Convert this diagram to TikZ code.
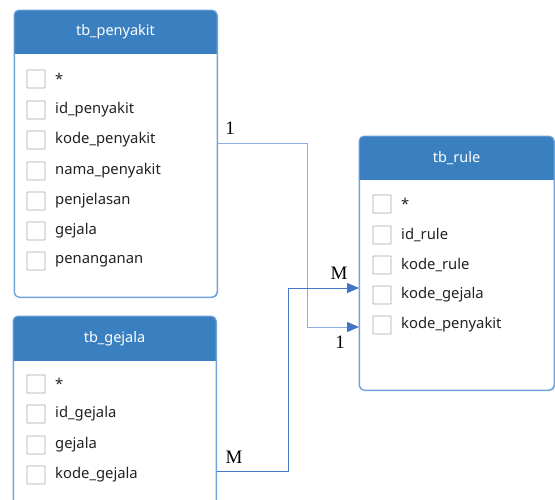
\documentclass[tikz,border=0pt]{standalone}
\usepackage{fontspec}
\setmainfont{Liberation Serif}
\newfontfamily\uifont{Noto Sans}
\usetikzlibrary{arrows.meta,calc}
\definecolor{hdr}{HTML}{3A80C0}
\definecolor{bord}{HTML}{6FA3DC}
\definecolor{lineA}{HTML}{8CAEE0}
\definecolor{lineB}{HTML}{4A78CC}
\definecolor{tip}{HTML}{4472C4}
\definecolor{cb}{HTML}{A8A8A8}
\definecolor{txt}{HTML}{222222}
\tikzset{
  tablebox/.style={draw=bord, line width=1pt, fill=white, rounded corners=5pt, inner sep=0pt, anchor=north west},
  hdrtext/.style={font=\uifont\fontsize{14.5}{16}\selectfont, text=white},
  rowtext/.style={font=\uifont\fontsize{14.8}{16}\selectfont, text=txt, anchor=west, inner sep=0pt},
  chk/.style={draw=cb, line width=0.9pt, minimum size=18pt, inner sep=0pt, rounded corners=0.5pt},
  conn/.style={line width=1pt},
  arr/.style={-{Triangle[length=12pt,width=10pt,color=tip]}},
  card/.style={font=\fontsize{19}{21}\selectfont, text=black, inner sep=0pt}
}
\newcommand{\tbl}[7]{% name, x, y, w, h, header height, title
  \node[tablebox, minimum width=#4pt, minimum height=#5pt] (#1) at (#2,#3) {};
  \begin{scope}
    \clip[rounded corners=5pt] (#2,#3) rectangle ++(#4,#5);
    \fill[hdr] (#2,#3) rectangle ++(#4,#6);
  \end{scope}
  \draw[bord, line width=1pt, rounded corners=5pt] (#2,#3) rectangle ++(#4,#5);
  \node[hdrtext] (#1title) at ($(#2,#3)+(#4/2,#6/2)$) {#7};
}
\newcommand{\row}[4]{% name, checkbox x, y, text
  \node[chk] (#1box) at (#2,#3) {};
  \node[rowtext] (#1) at ($(#2,#3)+(19,0)$) {#4};
}
\begin{document}
\begin{tikzpicture}[x=1pt,y=-1pt]
\clip (0,0) rectangle (555,499);
\fill[white] (0,0) rectangle (555,499);
% tb_penyakit
\tbl{penyakit}{14}{10}{203}{287}{44}{tb\_penyakit}
\row{pstar}{36}{79}{*}
\row{pid}{36}{110}{id\_penyakit}
\row{pkode}{36}{140}{kode\_penyakit}
\row{pnama}{36}{171}{nama\_penyakit}
\row{ppenj}{36}{201}{penjelasan}
\row{pgej}{36}{231}{gejala}
\row{ppen}{36}{261}{penanganan}
% tb_gejala
\tbl{gejala}{13}{316}{203}{200}{45}{tb\_gejala}
\row{gstar}{36}{384}{*}
\row{gid}{36}{414}{id\_gejala}
\row{ggej}{36}{445}{gejala}
\row{gkode}{36}{475}{kode\_gejala}
% tb_rule
\tbl{rule}{359}{136}{195}{254}{44}{tb\_rule}
\row{rstar}{382}{204}{*}
\row{rid}{382}{235}{id\_rule}
\row{rkr}{382}{265}{kode\_rule}
\row{rkg}{382}{295}{kode\_gejala}
\row{rkp}{382}{325}{kode\_penyakit}
% connectors
\coordinate (b1) at (307,143);
\coordinate (b2) at (288,471);
\draw[conn, lineA, arr] (penyakit.east |- b1) -- (b1) |- (rule.west |- 0,327);
\draw[conn, lineB, arr] (gejala.east |- b2) -- (b2) |- (rule.west |- 0,288);
\node[card] (c1) at (230,128) {1};
\node[card] (c2) at (340,342) {1};
\node[card] (c3) at (339,273) {M};
\node[card] (c4) at (234,457) {M};
\end{tikzpicture}
\end{document}
